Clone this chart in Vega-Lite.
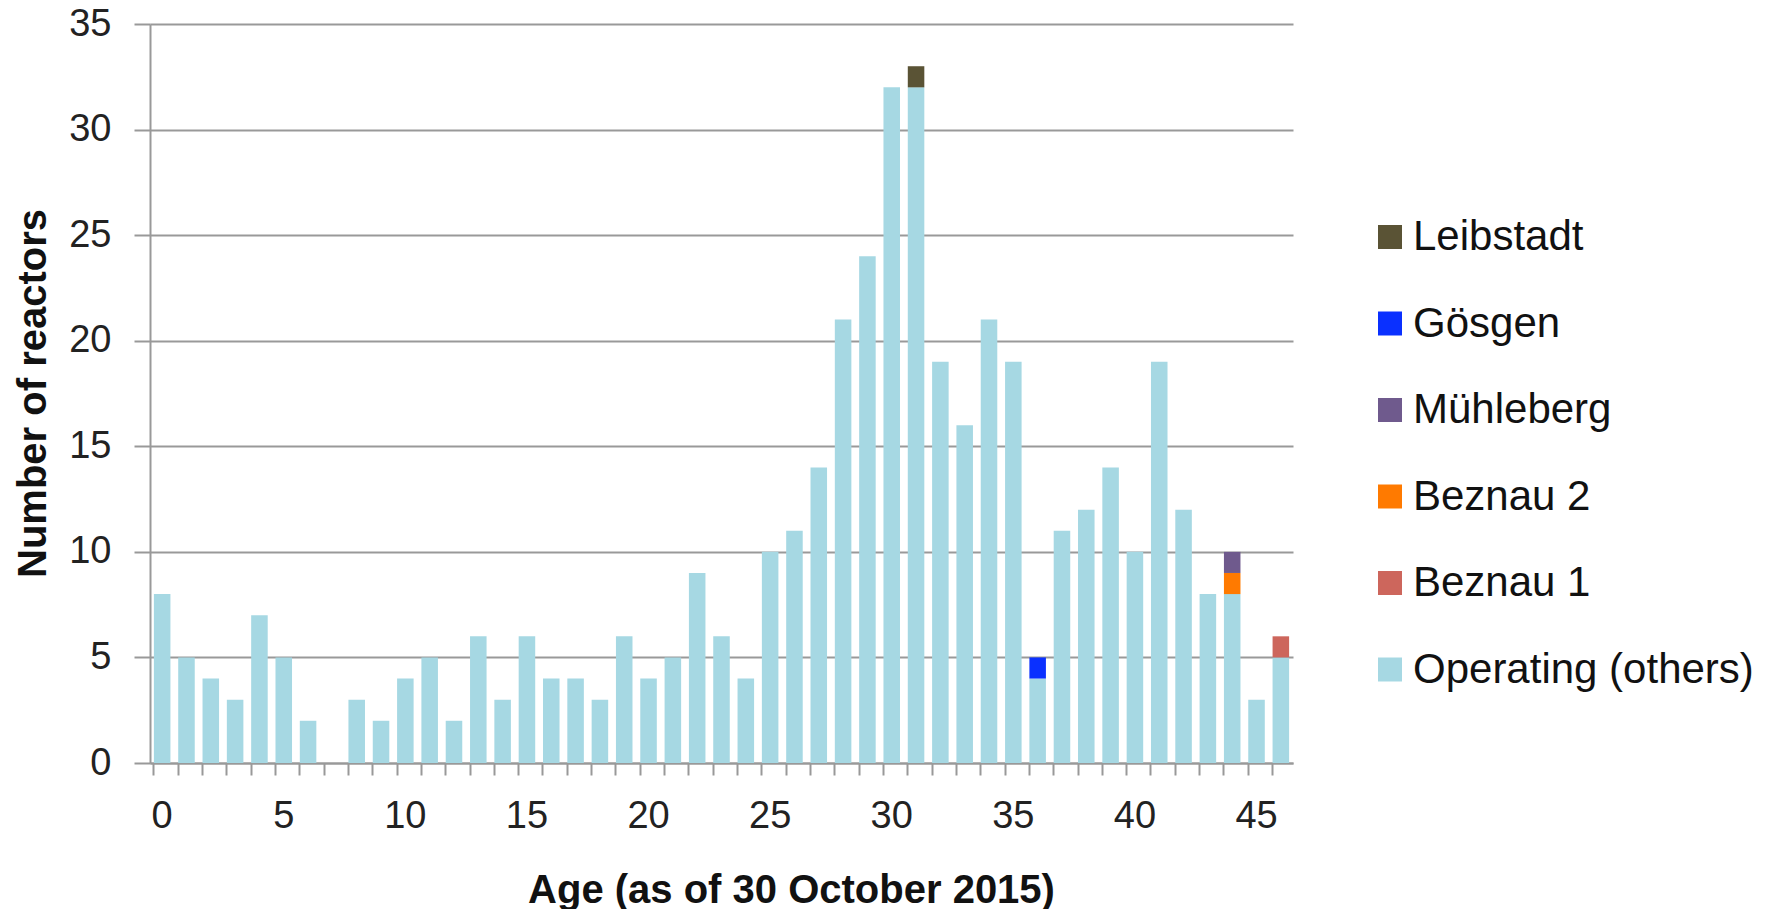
{
  "$schema": "https://vega.github.io/schema/vega-lite/v6.json",
  "autosize": {"type": "none"},
  "padding": {"left": 150, "top": 24, "right": 473, "bottom": 146},
  "width": 1143,
  "height": 739,
  "background": "white",
  "config": {
    "view": {"stroke": null},
    "font": "Liberation Sans",
    "axis": {"labelFont": "Liberation Sans", "titleFont": "Liberation Sans", "labelColor": "#222222", "titleColor": "#111111"}
  },
  "data": {
    "values": [
      {"age": 0, "series": "Operating (others)", "rank": 1, "n": 8},
      {"age": 1, "series": "Operating (others)", "rank": 1, "n": 5},
      {"age": 2, "series": "Operating (others)", "rank": 1, "n": 4},
      {"age": 3, "series": "Operating (others)", "rank": 1, "n": 3},
      {"age": 4, "series": "Operating (others)", "rank": 1, "n": 7},
      {"age": 5, "series": "Operating (others)", "rank": 1, "n": 5},
      {"age": 6, "series": "Operating (others)", "rank": 1, "n": 2},
      {"age": 7, "series": "Operating (others)", "rank": 1, "n": 0},
      {"age": 8, "series": "Operating (others)", "rank": 1, "n": 3},
      {"age": 9, "series": "Operating (others)", "rank": 1, "n": 2},
      {"age": 10, "series": "Operating (others)", "rank": 1, "n": 4},
      {"age": 11, "series": "Operating (others)", "rank": 1, "n": 5},
      {"age": 12, "series": "Operating (others)", "rank": 1, "n": 2},
      {"age": 13, "series": "Operating (others)", "rank": 1, "n": 6},
      {"age": 14, "series": "Operating (others)", "rank": 1, "n": 3},
      {"age": 15, "series": "Operating (others)", "rank": 1, "n": 6},
      {"age": 16, "series": "Operating (others)", "rank": 1, "n": 4},
      {"age": 17, "series": "Operating (others)", "rank": 1, "n": 4},
      {"age": 18, "series": "Operating (others)", "rank": 1, "n": 3},
      {"age": 19, "series": "Operating (others)", "rank": 1, "n": 6},
      {"age": 20, "series": "Operating (others)", "rank": 1, "n": 4},
      {"age": 21, "series": "Operating (others)", "rank": 1, "n": 5},
      {"age": 22, "series": "Operating (others)", "rank": 1, "n": 9},
      {"age": 23, "series": "Operating (others)", "rank": 1, "n": 6},
      {"age": 24, "series": "Operating (others)", "rank": 1, "n": 4},
      {"age": 25, "series": "Operating (others)", "rank": 1, "n": 10},
      {"age": 26, "series": "Operating (others)", "rank": 1, "n": 11},
      {"age": 27, "series": "Operating (others)", "rank": 1, "n": 14},
      {"age": 28, "series": "Operating (others)", "rank": 1, "n": 21},
      {"age": 29, "series": "Operating (others)", "rank": 1, "n": 24},
      {"age": 30, "series": "Operating (others)", "rank": 1, "n": 32},
      {"age": 31, "series": "Operating (others)", "rank": 1, "n": 32},
      {"age": 31, "series": "Leibstadt", "rank": 6, "n": 1},
      {"age": 32, "series": "Operating (others)", "rank": 1, "n": 19},
      {"age": 33, "series": "Operating (others)", "rank": 1, "n": 16},
      {"age": 34, "series": "Operating (others)", "rank": 1, "n": 21},
      {"age": 35, "series": "Operating (others)", "rank": 1, "n": 19},
      {"age": 36, "series": "Operating (others)", "rank": 1, "n": 4},
      {"age": 36, "series": "Gösgen", "rank": 5, "n": 1},
      {"age": 37, "series": "Operating (others)", "rank": 1, "n": 11},
      {"age": 38, "series": "Operating (others)", "rank": 1, "n": 12},
      {"age": 39, "series": "Operating (others)", "rank": 1, "n": 14},
      {"age": 40, "series": "Operating (others)", "rank": 1, "n": 10},
      {"age": 41, "series": "Operating (others)", "rank": 1, "n": 19},
      {"age": 42, "series": "Operating (others)", "rank": 1, "n": 12},
      {"age": 43, "series": "Operating (others)", "rank": 1, "n": 8},
      {"age": 44, "series": "Operating (others)", "rank": 1, "n": 8},
      {"age": 44, "series": "Beznau 2", "rank": 3, "n": 1},
      {"age": 44, "series": "Mühleberg", "rank": 4, "n": 1},
      {"age": 45, "series": "Operating (others)", "rank": 1, "n": 3},
      {"age": 46, "series": "Operating (others)", "rank": 1, "n": 5},
      {"age": 46, "series": "Beznau 1", "rank": 2, "n": 1}
    ]
  },
  "layer": [
    {
      "mark": {"type": "bar", "opacity": 0},
      "encoding": {
        "x": {
          "field": "age", "type": "ordinal",
          "scale": {"domain": [0,1,2,3,4,5,6,7,8,9,10,11,12,13,14,15,16,17,18,19,20,21,22,23,24,25,26,27,28,29,30,31,32,33,34,35,36,37,38,39,40,41,42,43,44,45,46], "paddingInner": 0.32, "paddingOuter": 0.16},
          "axis": {"orient": "bottom", "labels": false, "title": null, "domain": false, "grid": false, "ticks": true, "bandPosition": 0, "tickSize": 12, "tickColor": "#999999", "tickWidth": 2}
        }
      }
    },
    {
      "mark": {"type": "bar"},
      "encoding": {
        "x": {
          "field": "age", "type": "ordinal",
          "axis": {
            "orient": "bottom",
            "values": [0,5,10,15,20,25,30,35,40,45],
            "labelAngle": 0,
            "labelFontSize": 38,
            "labelPadding": 34,
            "ticks": false,
            "tickSize": 0,
            "domain": true,
            "domainColor": "#999999",
            "domainWidth": 2,
            "grid": false,
            "title": "Age (as of 30 October 2015)",
            "titleFontSize": 40,
            "titleFontWeight": "bold",
            "titleX": 641,
            "titleY": 139,
            "titleAlign": "center",
            "titleBaseline": "alphabetic"
          }
        },
        "y": {
          "field": "n", "type": "quantitative", "stack": "zero",
          "scale": {"domain": [0, 35], "nice": false},
          "axis": {
            "values": [0,5,10,15,20,25,30,35],
            "labelFontSize": 38,
            "labelPadding": 23,
            "tickSize": 16,
            "tickColor": "#999999",
            "tickWidth": 2,
            "domainColor": "#999999",
            "domainWidth": 2,
            "grid": true,
            "gridColor": "#999999",
            "gridWidth": 2,
            "title": "Number of reactors",
            "titleFontSize": 40,
            "titleFontWeight": "bold",
            "titleX": -105,
            "titleY": 369,
            "titleAngle": -90,
            "titleAlign": "center",
            "titleBaseline": "alphabetic"
          }
        },
        "color": {
          "field": "series", "type": "nominal",
          "scale": {
            "domain": ["Leibstadt", "Gösgen", "Mühleberg", "Beznau 2", "Beznau 1", "Operating (others)"],
            "range": ["#5A5335", "#0A30FF", "#6F5A8D", "#FF7A00", "#CD665C", "#A6D8E3"]
          },
          "legend": {
            "title": null,
            "orient": "none",
            "legendX": 1219,
            "legendY": 192,
            "symbolType": "square",
            "symbolSize": 576,
            "symbolStrokeWidth": 0,
            "labelFont": "Liberation Sans",
            "labelFontSize": 42,
            "labelColor": "#111111",
            "labelOffset": 2,
            "labelLimit": 500,
            "rowPadding": 44.5
          }
        },
        "order": {"field": "rank", "type": "quantitative"}
      }
    }
  ],
  "resolve": {"axis": {"x": "independent"}}
}
